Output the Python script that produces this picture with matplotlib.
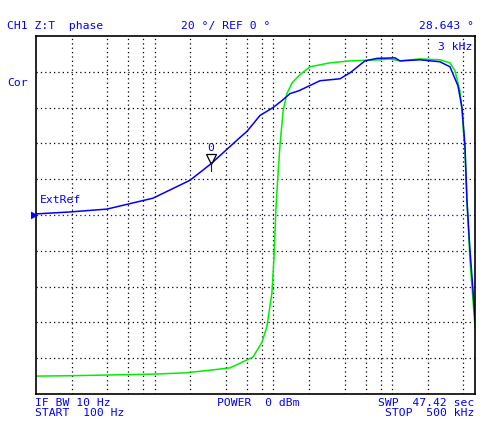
import numpy as np
import matplotlib.pyplot as plt

# Z:T phase trace (blue) and memory trace (green), frequency in Hz, phase in deg
freq_blue = [100, 193, 396, 968, 1983, 2980, 5230, 5990, 7710, 9930, 11800, 13800,
             16400, 24700, 36400, 44200, 59100, 74600, 105800, 116600, 171800,
             253400, 307500, 359300, 388400, 411400, 427600, 453200, 480500, 500000]
phase_blue = [0.6, 1.7, 3.3, 9.4, 19.4, 28.6, 43.3, 46.7, 55.6, 60.0, 63.9, 67.8,
              69.4, 75.0, 76.1, 79.4, 86.1, 87.5, 87.8, 86.1, 86.7,
              85.6, 82.8, 72.2, 60.0, 38.9, 8.3, -19.4, -41.7, -58.3]

freq_green = [100, 193, 396, 968, 1800, 2920, 4310, 5230, 6730, 8020, 8830, 9730,
              10100, 10500, 10900, 11400, 12100, 13000, 14400, 16400, 20300, 30000,
              44200, 79100, 96000, 116600, 171800, 253400, 307500, 338800, 373300,
              388400, 411400, 427600, 453200, 480500, 500000]
phase_green = [-90.0, -89.8, -89.4, -88.9, -88.2, -86.7, -85.4, -82.8, -79.4, -71.1,
               -62.2, -43.3, -25.0, 2.8, 21.1, 40.0, 58.3, 67.8, 73.9, 77.8, 82.8,
               85.0, 86.1, 86.7, 87.2, 86.1, 87.2, 86.7, 85.0, 80.6, 69.4,
               58.3, 36.1, 8.3, -25.0, -47.2, -62.8]

grid_freqs = [200, 400, 600, 800, 1000, 2000, 4000, 6000, 8000, 10000,
              20000, 40000, 60000, 80000, 100000, 200000, 400000]
grid_phases = [-80, -60, -40, -20, 20, 40, 60, 80]

marker_f = 2980
marker_p = 28.6

blue = '#0000ff'
green = '#00ee00'
mono = 'DejaVu Sans Mono'
fs = 8.2
dots = (0, (1, 2.5))

fig = plt.figure(figsize=(4.86, 4.24), dpi=100)
ax = fig.add_axes([36/486, 1-394/424, (475-36)/486, (394-36)/424])
ax.set_xscale('log')
ax.set_xlim(100, 500000)
ax.set_ylim(-100, 100)
ax.set_xticks([])
ax.set_yticks([])
ax.minorticks_off()
for s in ax.spines.values():
    s.set_linewidth(1.2)

for g in grid_freqs:
    ax.axvline(g, color='black', lw=0.9, ls=dots)
for g in grid_phases:
    ax.axhline(g, color='black', lw=0.9, ls=dots)
ax.axhline(0, color=blue, lw=0.9, ls=dots)

ax.plot(freq_green, phase_green, color=green, lw=1.1)
ax.plot(freq_blue, phase_blue, color=blue, lw=1.1)

# marker
ax.plot([marker_f], [marker_p + 2.5], marker='v', ms=7, mfc='white', mec='black', mew=0.9)
ax.plot([marker_f, marker_f], [marker_p - 4, marker_p + 1], color=blue, lw=0.8)
ax.text(marker_f, marker_p + 6, '0', ha='center', va='bottom', family=mono, fontsize=fs, color=blue)

# reference pointer
fig.text(31/486, 1-215/424, '\u25b6', color=blue, fontsize=7, ha='left', va='center')

def t(x, y, s, ha='left'):
    fig.text(x/486, 1-y/424, s, ha=ha, va='center', family=mono, fontsize=fs, color=blue)

t(7, 26, 'CH1 Z:T  phase')
t(181, 26, '20 °/ REF 0 °')
t(474, 26, '28.643 °', ha='right')
t(472, 47, '3 kHz', ha='right')
t(7, 83, 'Cor')
t(40, 200, 'ExtRef')
t(35, 403, 'IF BW 10 Hz')
t(35, 413, 'START  100 Hz')
t(217, 403, 'POWER  0 dBm')
t(474, 403, 'SWP  47.42 sec', ha='right')
t(474, 413, 'STOP  500 kHz', ha='right')

fig.savefig('out.png', dpi=100)
